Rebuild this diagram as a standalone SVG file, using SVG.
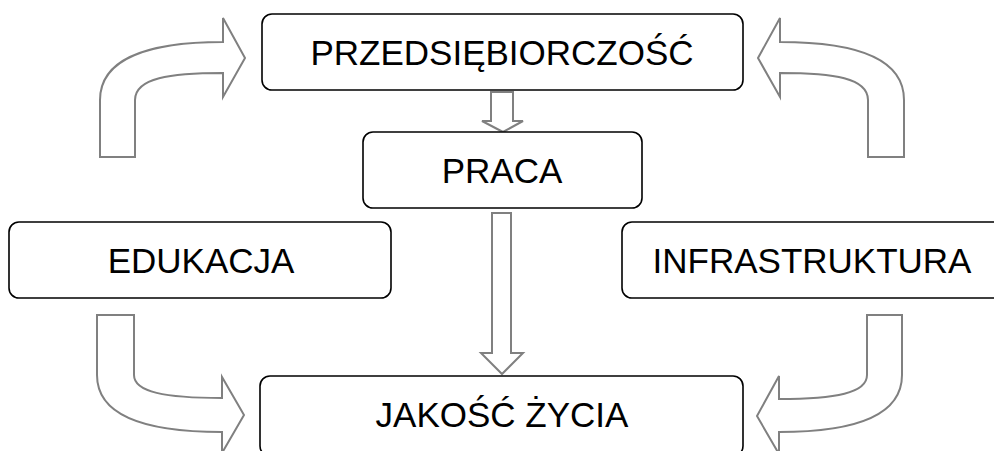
<svg xmlns="http://www.w3.org/2000/svg" width="994" height="451" viewBox="0 0 994 451">
<style>
.box{fill:#fff;stroke:#000;stroke-width:1.6}
.lbl{font-family:"Liberation Sans",Arial,sans-serif;font-size:35px;fill:#000;text-anchor:middle}
.arr{fill:#fff;stroke:#808080;stroke-width:2;stroke-linejoin:miter}
</style>
<rect width="994" height="451" fill="#fff"/>
<g id="connectors">
<path class="arr" d="M100,157 L100,100 C100,58 150,42 223,42 L223,18 L245,58 L223,97 L223,73 C170,73 135,78 135,100 L135,157 Z"/>
<path class="arr" d="M904,157 L904,100 C904,58 854,42 780,42 L780,18 L758,58 L780,97 L780,73 C834,73 868,78 868,100 L868,157 Z"/>
<path class="arr" d="M97,315 L97,375 C97,418 150,432 222,432 L222,453 L244,415 L222,377 L222,398 C165,398 134,392 134,375 L134,315 Z"/>
<path class="arr" d="M902,315 L902,375 C902,418 850,432 779,432 L779,454 L757,416 L779,376 L779,399 C836,399 867,393 867,375 L867,315 Z"/>
<path class="arr" d="M491,92 L513,92 L513,121 L523,121 L503,132 L482,121 L491,121 Z"/>
<path class="arr" d="M492,213 L511,213 L511,353 L523,353 L502,374 L481,353 L492,353 Z"/>
</g>
<g id="n-przedsiebiorczosc">
<rect class="box" x="262" y="14" width="481" height="76" rx="10"/>
<text class="lbl" x="502" y="65">PRZEDSIĘBIORCZOŚĆ</text>
</g>
<g id="n-praca">
<rect class="box" x="363" y="132" width="279" height="76" rx="10"/>
<text class="lbl" x="502" y="183">PRACA</text>
</g>
<g id="n-edukacja">
<rect class="box" x="9" y="222" width="382" height="76" rx="10"/>
<text class="lbl" x="201" y="273">EDUKACJA</text>
</g>
<g id="n-infrastruktura">
<rect class="box" x="622" y="222" width="382" height="76" rx="10"/>
<text class="lbl" x="812" y="273">INFRASTRUKTURA</text>
</g>
<g id="n-jakosc-zycia">
<rect class="box" x="260" y="376" width="483" height="80" rx="10"/>
<text class="lbl" x="502" y="427">JAKOŚĆ ŻYCIA</text>
</g>
</svg>
